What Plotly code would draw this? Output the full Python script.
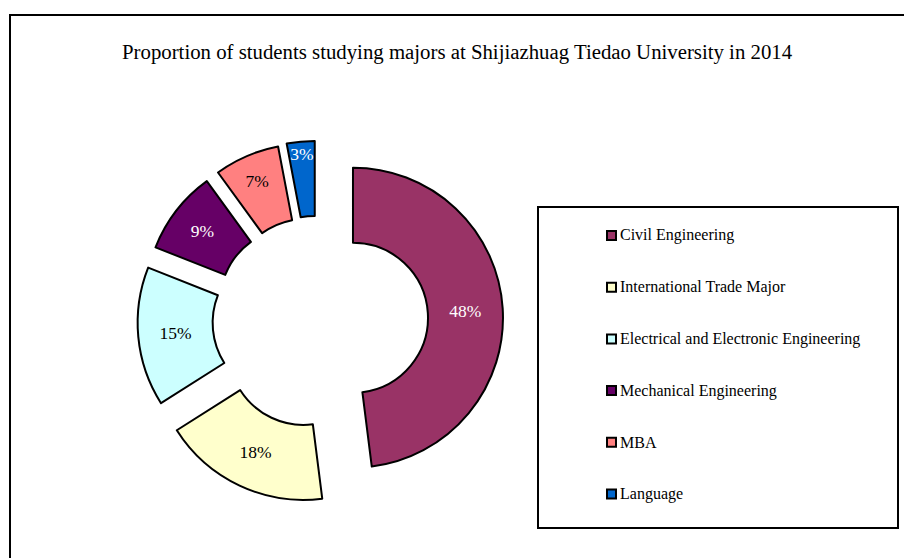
import plotly.graph_objects as go

# ---- data ----
labels = ["Civil Engineering", "International Trade Major",
          "Electrical and Electronic Engineering", "Mechanical Engineering",
          "MBA", "Language"]
values = [48, 18, 15, 9, 7, 3]
title_text = "Proportion of students studying majors at Shijiazhuag Tiedao University in 2014"

# ---- styles ----
colors = ["#993366", "#FFFFCC", "#CCFFFF", "#660066", "#FF8080", "#0066CC"]
text_colors = ["white", "black", "black", "white", "black", "white"]
pulls = [0.237, 0.22, 0.20, 0.19, 0.19, 0.195]
FONT = "Liberation Serif, Times New Roman, serif"

PAGE_OFF = 8                      # default body margin of the html page
W, H = 912 + PAGE_OFF, 558 + PAGE_OFF
CX, CY, R = 317.5, 320.0, 150.0   # pie centre / radius in window pixels


def px(x):
    return (x - PAGE_OFF) / W


def py(y):
    return 1 - (y - PAGE_OFF) / H


half = R * (1 + max(pulls))

fig = go.Figure()
fig.add_trace(go.Pie(
    labels=labels, values=values, sort=False, direction="clockwise", rotation=0,
    hole=0.5, pull=pulls,
    marker=dict(colors=colors, line=dict(color="black", width=2)),
    texttemplate="%{percent:.0%}", textposition="inside",
    insidetextorientation="horizontal",
    textfont=dict(family=FONT, size=17.5, color=text_colors),
    domain=dict(x=[px(CX - half), px(CX + half)], y=[py(CY + half), py(CY - half)]),
    showlegend=False,
))

shapes = [
    # outer frame (clipped on right/bottom)
    dict(type="rect", xref="paper", yref="paper", x0=px(10), y0=py(15), x1=1.05, y1=-0.05,
         line=dict(color="black", width=2), fillcolor="rgba(0,0,0,0)", layer="below"),
    # legend box
    dict(type="rect", xref="paper", yref="paper", x0=px(538), y0=py(207), x1=px(898), y1=py(528),
         line=dict(color="black", width=2), fillcolor="white", layer="below"),
]
annotations = [
    dict(text=title_text, x=px(457.5), y=py(52), xref="paper", yref="paper",
         xanchor="center", yanchor="middle", showarrow=False,
         font=dict(family=FONT, size=20.8, color="black")),
]

y0, step = 235.5, 51.7
for i, (lab, col) in enumerate(zip(labels, colors)):
    yc = y0 + i * step
    shapes.append(dict(type="rect", xref="paper", yref="paper",
                       x0=px(607), x1=px(616), y0=py(yc + 4.5), y1=py(yc - 4.5),
                       fillcolor=col, line=dict(color="black", width=2)))
    annotations.append(dict(text=lab, x=px(618), y=py(yc), xref="paper", yref="paper",
                            xanchor="left", yanchor="middle", showarrow=False,
                            font=dict(family=FONT, size=16, color="black")))

fig.update_layout(
    width=W, height=H, margin=dict(l=0, r=0, t=0, b=0),
    paper_bgcolor="white", plot_bgcolor="white",
    shapes=shapes, annotations=annotations,
    uniformtext=dict(minsize=17, mode="show"),
    font=dict(family=FONT),
)

fig.write_html("out.html")
